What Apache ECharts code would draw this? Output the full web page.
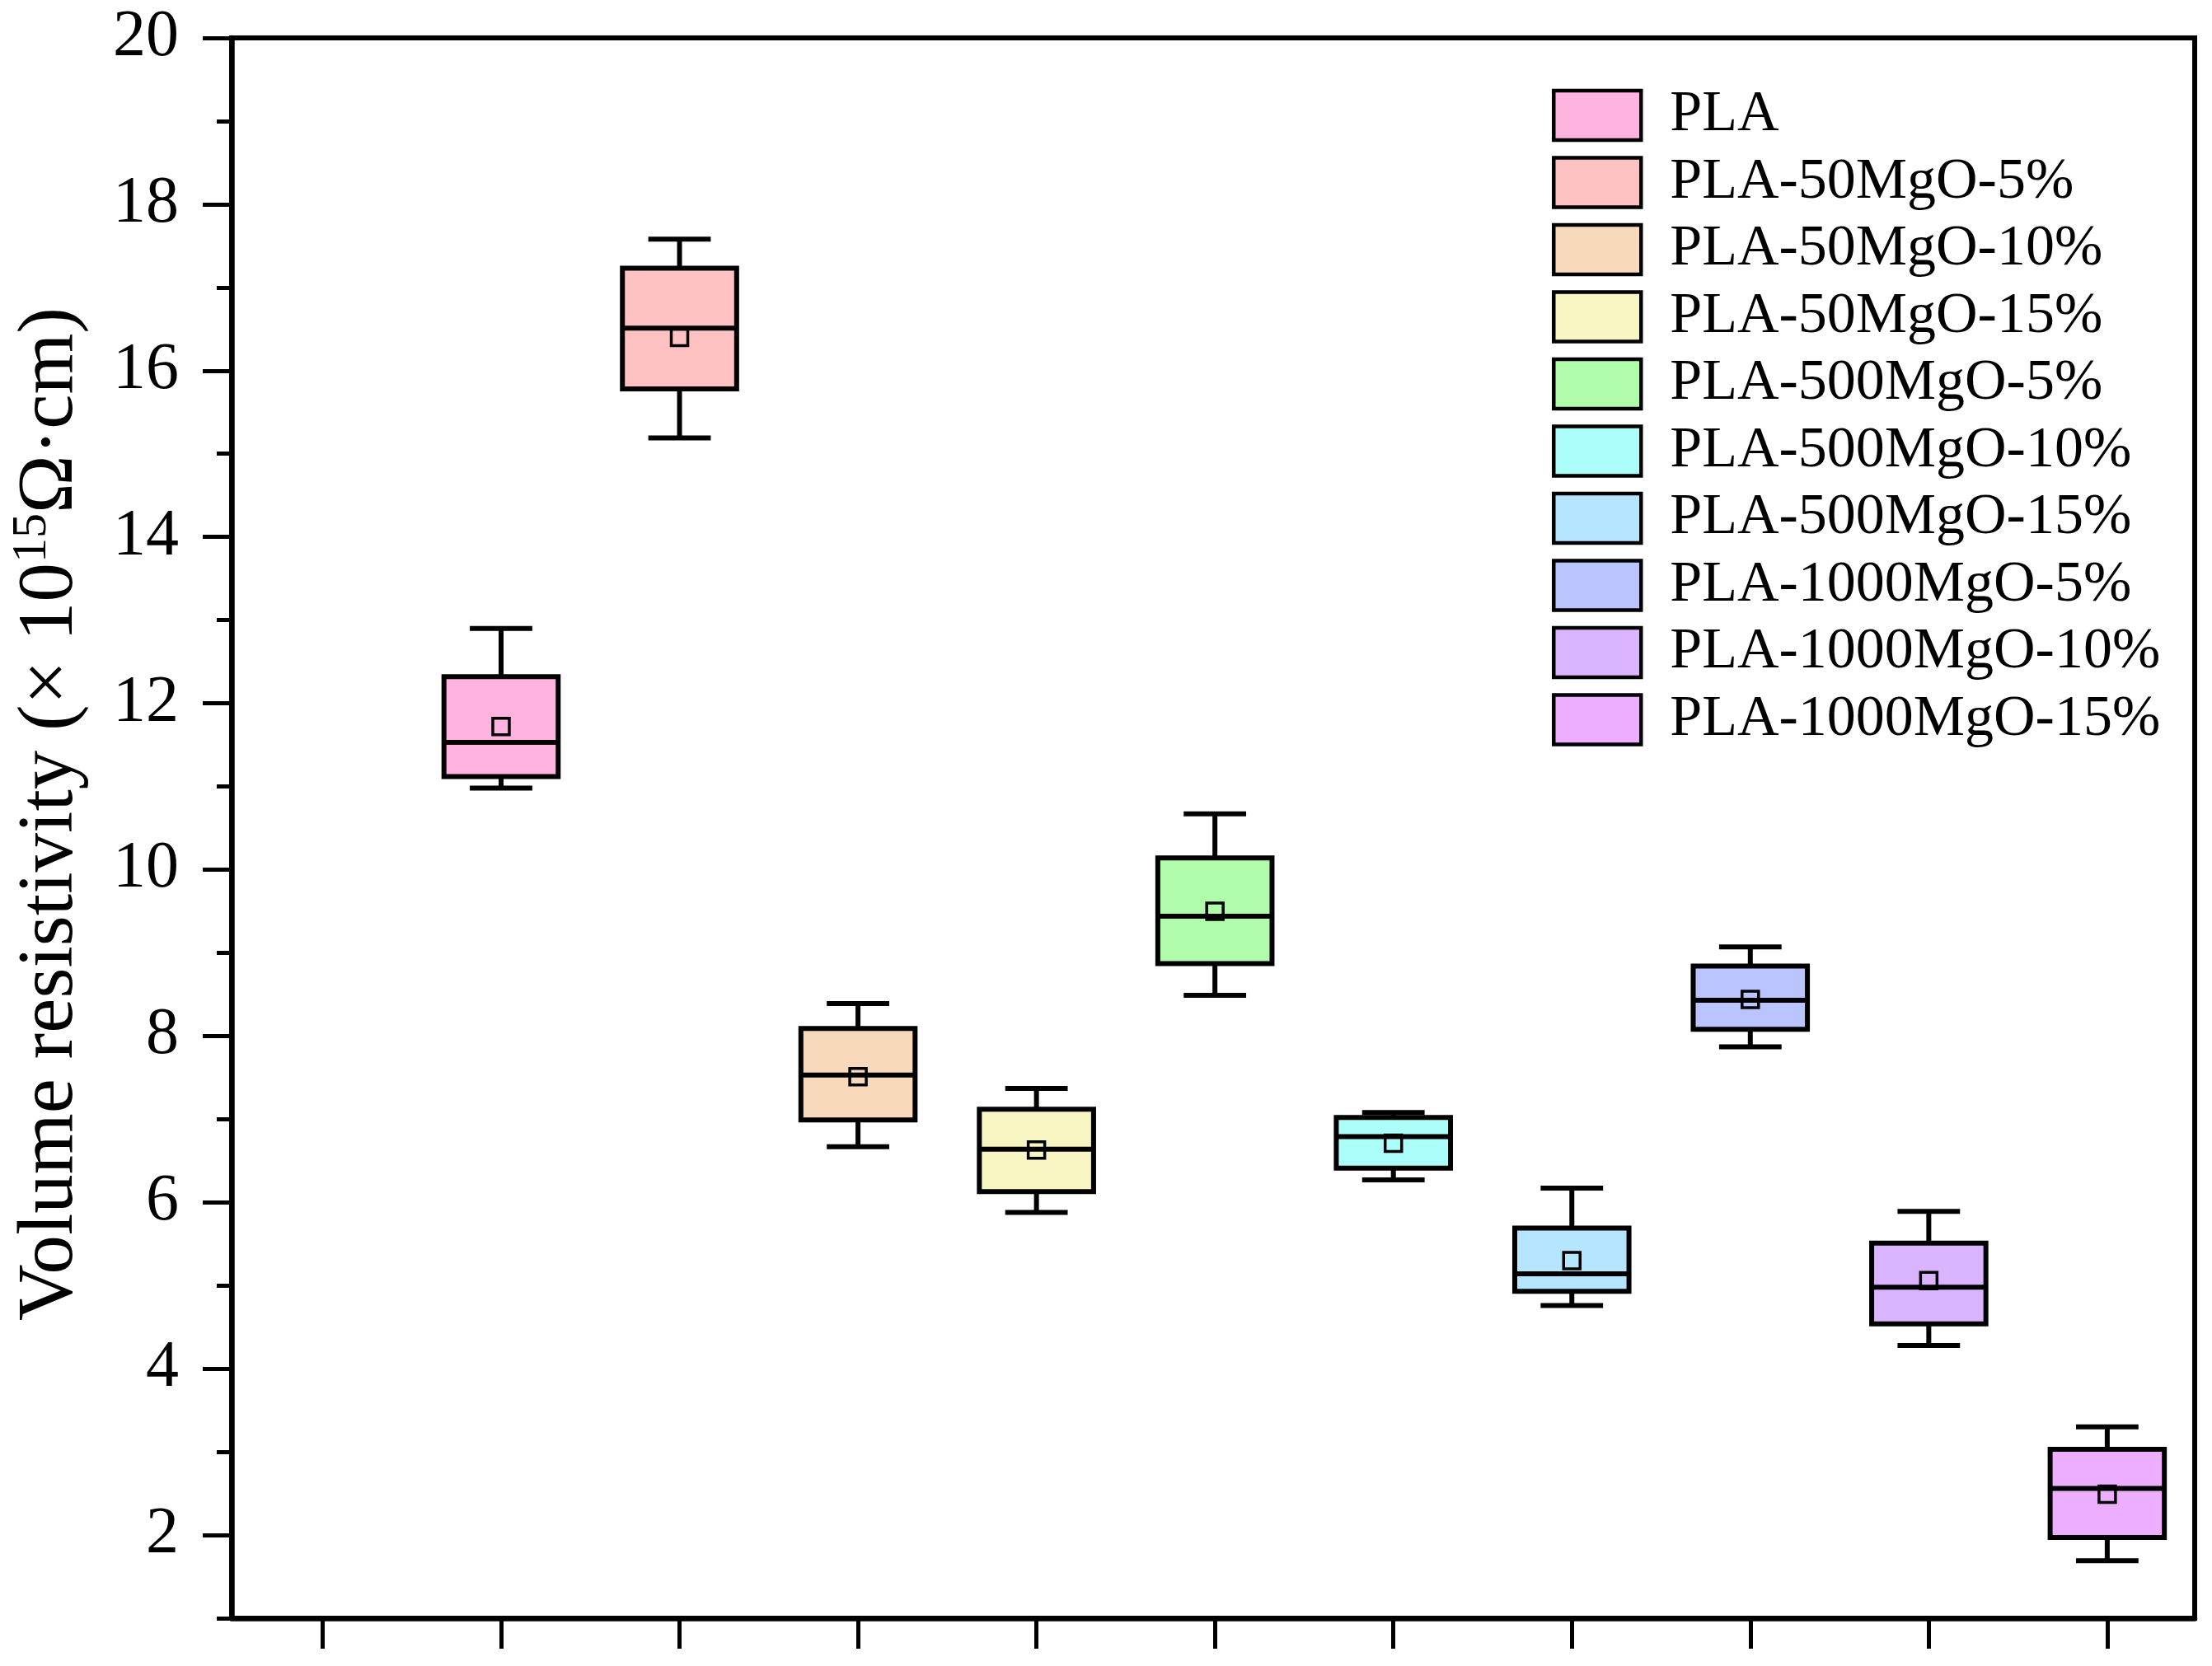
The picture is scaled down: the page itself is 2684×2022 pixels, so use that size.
<!DOCTYPE html>
<html>
<head>
<meta charset="utf-8">
<script src="https://cdn.jsdelivr.net/npm/echarts@6/dist/echarts.min.js"></script>
<style>
  html, body { margin: 0; padding: 0; background: #fff; }
  #chart { width: 2684px; height: 2022px; }
</style>
</head>
<body>
<div id="chart"></div>
<script>
// ---- data ----
const categories = ['PLA', 'PLA-50MgO-5%', 'PLA-50MgO-10%', 'PLA-50MgO-15%', 'PLA-500MgO-5%',
  'PLA-500MgO-10%', 'PLA-500MgO-15%', 'PLA-1000MgO-5%', 'PLA-1000MgO-10%', 'PLA-1000MgO-15%'];
const xPositions = [1, 2, 3, 4, 5, 6, 7, 8, 9, 10];
const whiskerLow  = [10.98, 15.19, 6.67, 5.88, 8.49, 6.27, 4.76, 7.87, 4.28, 1.69];
const q1          = [11.12, 15.78, 6.99, 6.13, 8.87, 6.41, 4.93, 8.08, 4.54, 1.97];
const median      = [11.53, 16.51, 7.53, 6.64, 9.44, 6.79, 5.14, 8.43, 4.98, 2.56];
const q3          = [12.32, 17.23, 8.09, 7.12, 10.14, 7.02, 5.69, 8.84, 5.51, 3.03];
const whiskerHigh = [12.90, 17.58, 8.39, 7.37, 10.67, 7.08, 6.17, 9.07, 5.89, 3.30];
const mean        = [11.72, 16.40, 7.51, 6.63, 9.50, 6.71, 5.30, 8.44, 5.06, 2.49];
const colors = ['#FFB3DF', '#FFC2C2', '#F9D9BC', '#F7F5C1', '#B0FCAA',
  '#ACFEFA', '#B5E5FF', '#BAC4FF', '#DAB4FF', '#EEAEFF'];
const xTicks = [0, 1, 2, 3, 4, 5, 6, 7, 8, 9, 10];
const yMajorTicks = [2, 4, 6, 8, 10, 12, 14, 16, 18, 20];
const yMinorTicks = [1, 3, 5, 7, 9, 11, 13, 15, 17, 19];

const FONT = 'Liberation Serif';

function renderBox(params, api) {
  const x = api.value(0);
  const pMin = api.coord([x, api.value(1)]);
  const pQ1 = api.coord([x, api.value(2)]);
  const pMed = api.coord([x, api.value(3)]);
  const pQ3 = api.coord([x, api.value(4)]);
  const pMax = api.coord([x, api.value(5)]);
  const pMean = api.coord([x, api.value(6)]);
  const halfW = api.size([0.64, 0])[0] / 2;
  const capHalf = api.size([0.35, 0])[0] / 2;
  const cx = pMed[0];
  const fill = api.visual('color');
  const ls = { stroke: '#000', lineWidth: 6, lineCap: 'butt' };
  const ms = 20;
  return {
    type: 'group',
    children: [
      { type: 'line', shape: { x1: cx, y1: pQ3[1], x2: cx, y2: pMax[1] }, style: ls },
      { type: 'line', shape: { x1: cx, y1: pQ1[1], x2: cx, y2: pMin[1] }, style: ls },
      { type: 'line', shape: { x1: cx - capHalf, y1: pMax[1], x2: cx + capHalf, y2: pMax[1] }, style: ls },
      { type: 'line', shape: { x1: cx - capHalf, y1: pMin[1], x2: cx + capHalf, y2: pMin[1] }, style: ls },
      { type: 'rect', shape: { x: cx - halfW, y: pQ3[1], width: 2 * halfW, height: pQ1[1] - pQ3[1] },
        style: { fill: fill, stroke: '#000', lineWidth: 6 } },
      { type: 'rect', shape: { x: pMean[0] - ms / 2, y: pMean[1] - ms / 2, width: ms, height: ms },
        style: { fill: 'none', stroke: '#000', lineWidth: 3.5 } },
      { type: 'line', shape: { x1: cx - halfW, y1: pMed[1], x2: cx + halfW, y2: pMed[1] }, style: ls }
    ]
  };
}

const series = categories.map((name, i) => ({
  type: 'custom',
  name: name,
  renderItem: renderBox,
  clip: false,
  itemStyle: { color: colors[i] },
  encode: { x: 0, y: [1, 2, 3, 4, 5, 6] },
  data: [[xPositions[i], whiskerLow[i], q1[i], median[i], q3[i], whiskerHigh[i], mean[i]]]
}));

const chart = echarts.init(document.getElementById('chart'), null, { renderer: 'canvas' });
chart.setOption({
  backgroundColor: '#fff',
  animation: false,
  grid: {
    left: 281, right: 21, top: 46, bottom: 58,
    containLabel: false,
    outerBoundsMode: 'none',
    show: true, borderColor: '#000', borderWidth: 6, backgroundColor: 'transparent'
  },
  legend: {
    orient: 'vertical',
    left: 1883, top: 105,
    padding: 0,
    icon: 'rect',
    itemWidth: 106, itemHeight: 60, itemGap: 11.5,
    itemStyle: { borderColor: '#000', borderWidth: 4.5 },
    textStyle: { fontFamily: FONT, fontSize: 70, color: '#000', lineHeight: 70, padding: [0, 0, 0, 30] },
    data: categories
  },
  xAxis: {
    type: 'value', min: -0.51, max: 10.49,
    axisLine: { show: true, onZero: false, lineStyle: { color: '#000', width: 6.5 } },
    axisTick: { show: true, inside: false, length: 37, customValues: xTicks, lineStyle: { color: '#000', width: 5 } },
    axisLabel: { show: false },
    splitLine: { show: false }
  },
  yAxis: [
    {
      type: 'value', min: 1, max: 20, position: 'left',
      axisLine: { show: true, onZero: false, lineStyle: { color: '#000', width: 6.5 } },
      axisTick: { show: true, inside: false, length: 35, customValues: yMajorTicks, lineStyle: { color: '#000', width: 5 } },
      axisLabel: { show: true, customValues: yMajorTicks, margin: 64, fontFamily: FONT, fontSize: 80, color: '#000' },
      splitLine: { show: false },
      name: '{a|Volume resistivity (× 10}{s|15}{a|Ω·cm)}',
      nameLocation: 'middle',
      nameGap: 166,
      nameTextStyle: {
        fontFamily: FONT, fontSize: 95, color: '#000',
        padding: [0, 0, 0, 34],
        rich: {
          a: { fontFamily: FONT, fontSize: 95, color: '#000', lineHeight: 106 },
          s: { fontFamily: FONT, fontSize: 60, color: '#000', lineHeight: 106, verticalAlign: 'top' }
        }
      }
    },
    {
      type: 'value', min: 1, max: 20, position: 'left',
      axisLine: { show: false, onZero: false },
      axisTick: { show: true, inside: false, length: 18, customValues: yMinorTicks, lineStyle: { color: '#000', width: 5 } },
      axisLabel: { show: false },
      splitLine: { show: false }
    }
  ],
  series: series
});
</script>
</body>
</html>
